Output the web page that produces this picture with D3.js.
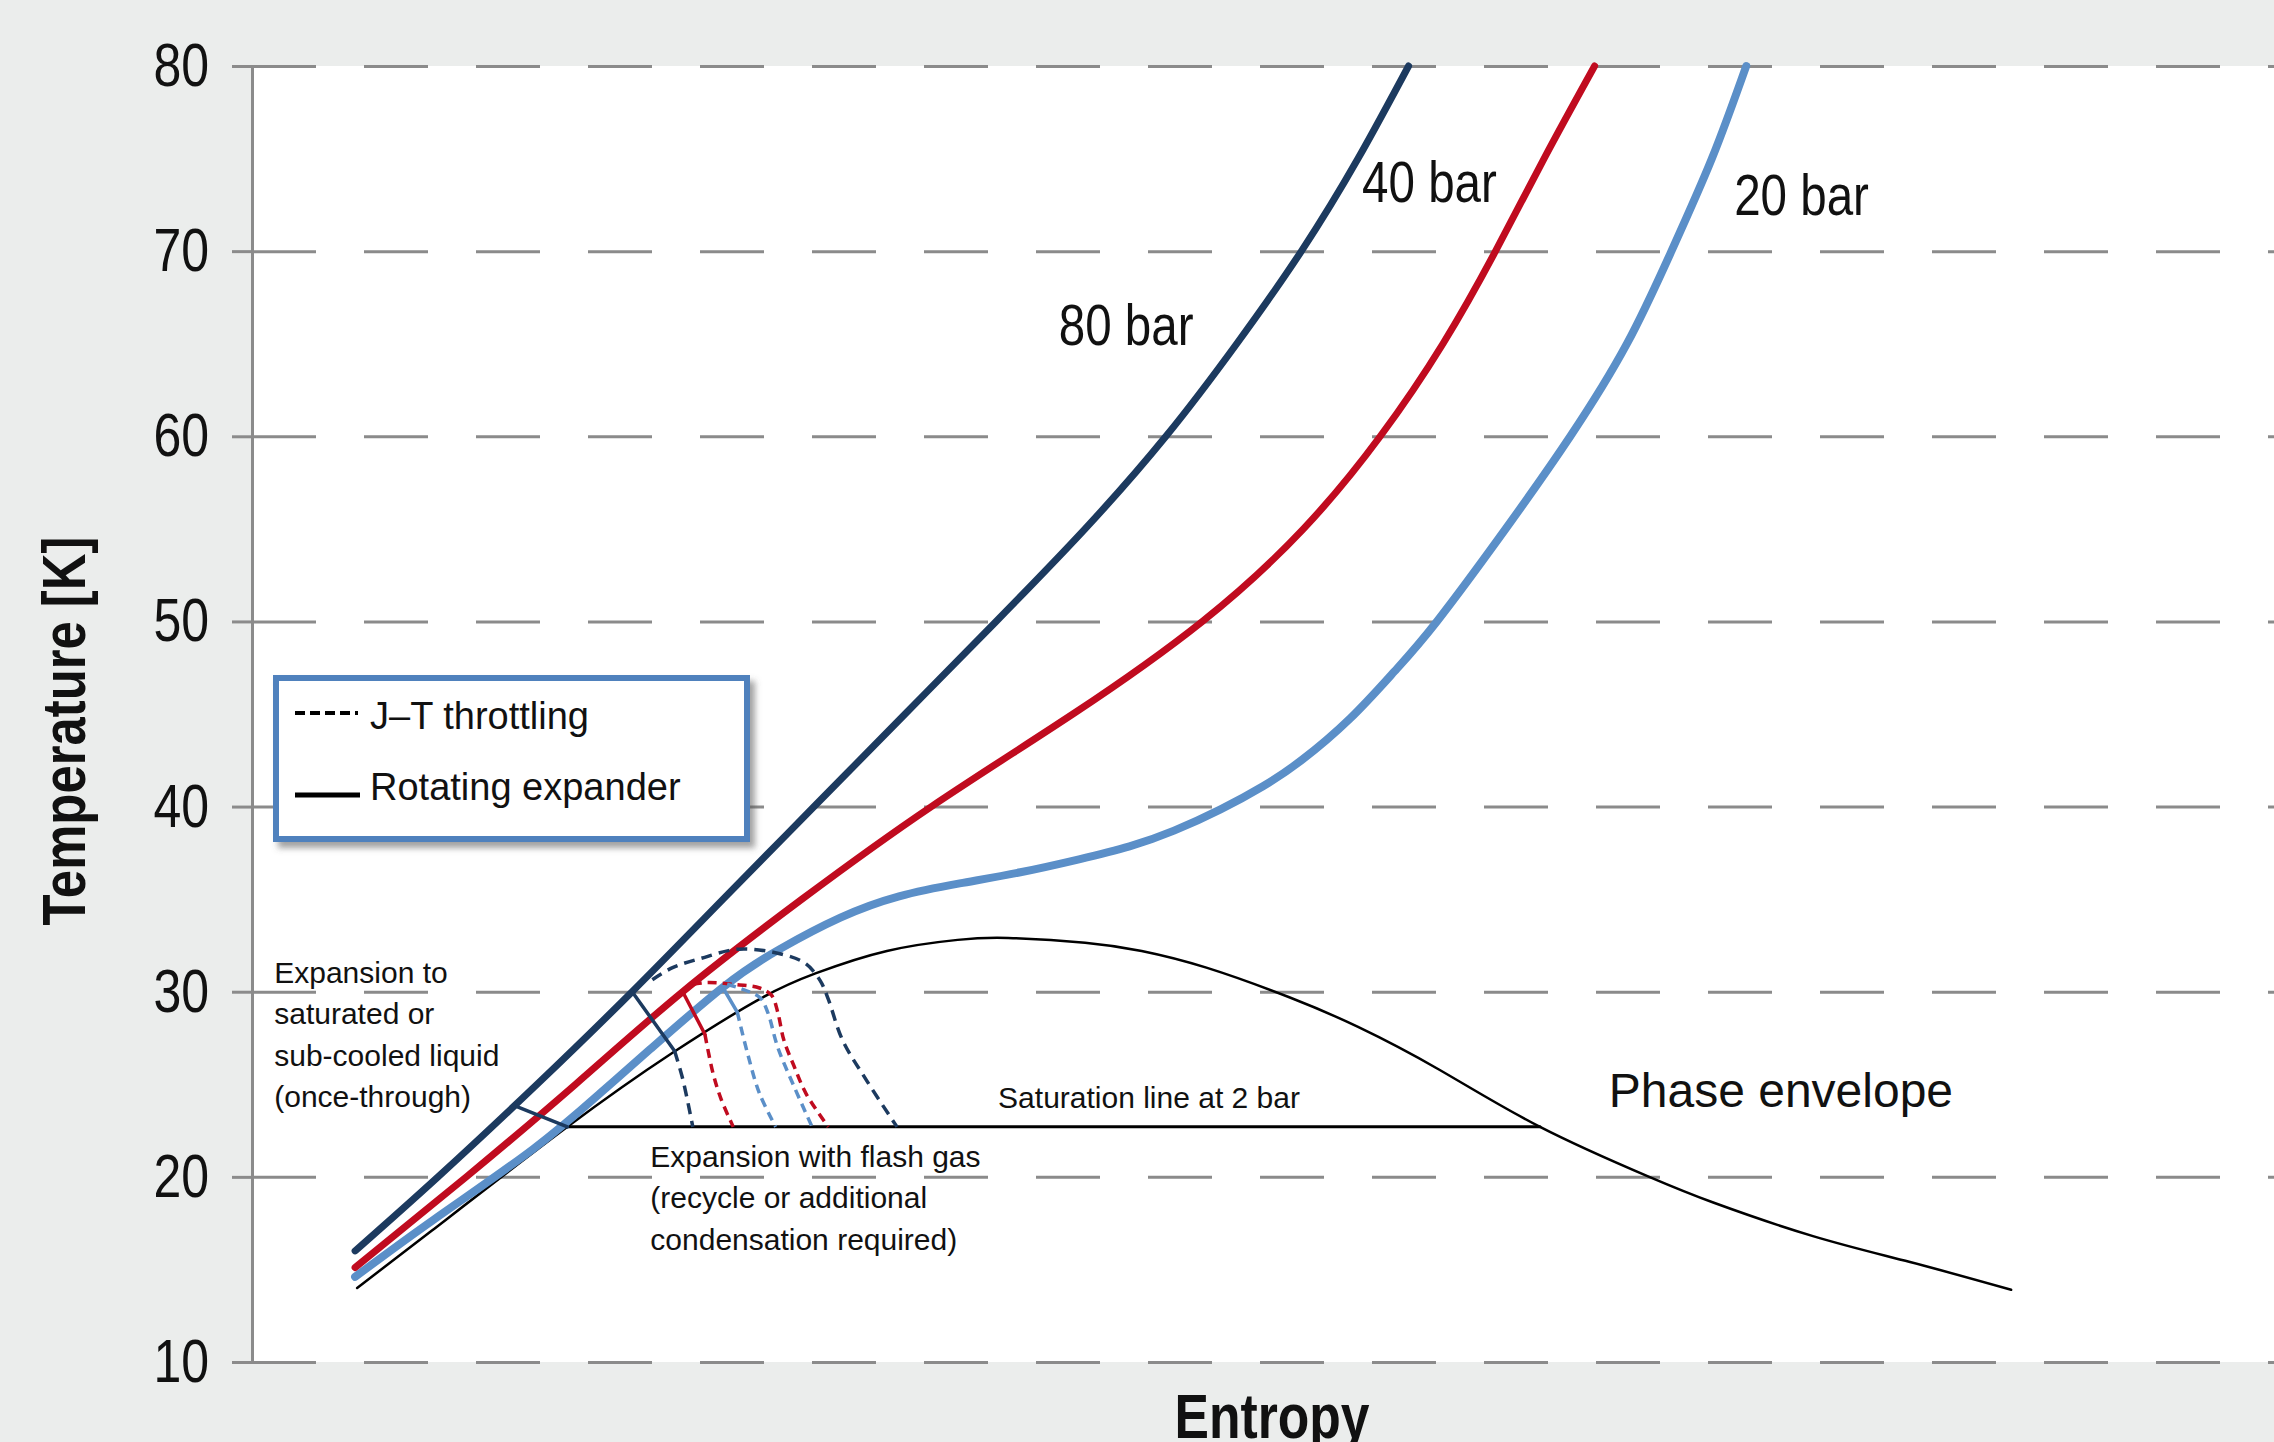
<!DOCTYPE html>
<html lang="en">
<head>
<meta charset="UTF-8">
<title>Hydrogen expansion T-s diagram</title>
<script src="https://d3js.org/d3.v7.min.js"></script>
<style>
  body { margin: 0; background: #ebedec; }
  svg { display: block; }
  text { font-family: 'Liberation Sans', Arial, sans-serif; fill: #111; }
</style>
</head>
<body>
<div id="chart"></div>
<script>
// Temperature ticks (K)
const tempTicks = [10, 20, 30, 40, 50, 60, 70, 80];

// Isobars: entropy (arbitrary units) vs temperature (K)
const s80 = [0.51, 0.92, 1.41, 1.88, 2.33, 2.78, 3.23, 3.68, 4.12, 4.52, 4.87, 5.19, 5.47, 5.72];
const t80 = [16.0, 20.0, 25.0, 30.0, 35.0, 40.0, 45.0, 50.0, 55.0, 60.0, 65.0, 70.0, 75.0, 80.0];

const s40 = [0.51, 1.06, 1.60, 2.13, 2.72, 3.36, 4.06, 4.70, 5.20, 5.58, 5.89, 6.15, 6.39, 6.64];
const t40 = [15.1, 20.0, 25.0, 30.0, 35.0, 40.0, 45.0, 50.0, 55.0, 60.0, 65.0, 70.0, 75.0, 80.0];

const s20 = [0.51, 0.90, 1.39, 1.72, 1.97, 2.33, 2.61, 2.91, 3.20, 3.50, 3.80, 4.09, 4.34, 4.56, 4.79,
             5.00, 5.19, 5.43, 5.65, 5.86, 6.20, 6.52, 6.80, 7.02, 7.22, 7.39];
const t20 = [14.6, 17.7, 21.5, 24.5, 26.9, 30.25, 32.3, 34.0, 35.15, 35.85, 36.45, 37.15, 37.85, 38.7, 39.85,
             41.1, 42.5, 44.75, 47.3, 50.0, 55.0, 60.0, 65.0, 70.0, 75.0, 80.0];

// Phase envelope
const sEnv = [0.52, 0.89, 1.56, 2.08, 2.51, 2.79, 3.14, 3.49, 3.74, 4.12, 4.40, 4.72, 5.13, 5.47, 5.87, 6.37, 6.91, 7.23, 7.72, 8.20, 8.70];
const tEnv = [14.0, 17.1, 22.7, 26.7, 29.6, 31.0, 32.2, 32.8, 32.9, 32.65, 32.2, 31.3, 29.7, 28.1, 25.8, 22.7, 20.0, 18.6, 16.8, 15.4, 13.9];

// Saturation line at 2 bar
const sSat = [1.56, 6.37];
const tSat = [22.7, 22.7];

// Rotating expander (solid) paths
const sExp80a = [1.31, 1.56], tExp80a = [23.8, 22.7];
const sExp80b = [1.88, 2.09], tExp80b = [30.0, 26.8];
const sExp40 = [2.13, 2.24], tExp40 = [30.0, 27.7];
const sExp20 = [2.33, 2.40], tExp20 = [30.2, 28.9];

// J-T throttling (dashed) paths
const sJT80a = [2.09, 2.13, 2.18], tJT80a = [26.8, 25.3, 22.7];
const sJT80b = [1.98, 2.08, 2.22, 2.41, 2.63, 2.74, 2.81, 2.85, 2.92, 3.04, 3.19];
const tJT80b = [30.65, 31.3, 31.8, 32.3, 32.0, 31.5, 30.6, 29.6, 27.4, 25.2, 22.7];
const sJT40a = [2.24, 2.28, 2.32, 2.38], tJT40a = [27.7, 25.6, 24.2, 22.7];
const sJT40b = [2.18, 2.25, 2.38, 2.51, 2.57, 2.60, 2.63, 2.68, 2.74, 2.85];
const tJT40b = [30.4, 30.5, 30.4, 30.2, 29.8, 28.9, 27.4, 26.0, 24.5, 22.7];
const sJT20a = [2.40, 2.45, 2.51, 2.59], tJT20a = [28.9, 26.7, 24.5, 22.7];
const sJT20b = [2.35, 2.51, 2.55, 2.60, 2.68, 2.77];
const tJT20b = [30.4, 29.7, 28.9, 27.0, 24.9, 22.7];

const navy = "#1c3a5f", red = "#c00b1f", blue = "#5b8fc8";
const narrow = 0.82; // horizontal squeeze for the condensed labels

const width = 2274, height = 1442;
const x = d3.scaleLinear().domain([0, 10]).range([252, 2274]);
const y = d3.scaleLinear().domain([10, 80]).range([1362, 66]);

const svg = d3.select("#chart").append("svg")
  .attr("width", width).attr("height", height);

const defs = svg.append("defs");
defs.append("filter").attr("id", "shadow")
  .attr("x", "-10%").attr("y", "-10%").attr("width", "130%").attr("height", "140%")
  .append("feDropShadow")
  .attr("dx", 5).attr("dy", 6).attr("stdDeviation", 3)
  .attr("flood-color", "#555").attr("flood-opacity", 0.55);

svg.append("rect").attr("width", width).attr("height", height).attr("fill", "#ebedec");
svg.append("rect")
  .attr("x", x(0)).attr("y", y(80))
  .attr("width", width - x(0)).attr("height", y(10) - y(80))
  .attr("fill", "#fff");

// dashed grid
svg.append("g")
  .attr("transform", `translate(${x(0)},0)`)
  .call(d3.axisLeft(y).tickValues(tempTicks).tickSize(-(width - x(0))).tickFormat(""))
  .call(g => g.select(".domain").remove())
  .call(g => g.selectAll(".tick line")
    .attr("stroke", "#8b8b8b").attr("stroke-width", 3).attr("stroke-dasharray", "64,48"));

// y axis
svg.append("g")
  .attr("transform", `translate(${x(0)},0)`)
  .call(d3.axisLeft(y).tickValues(tempTicks).tickSize(20).tickSizeOuter(0).tickPadding(23))
  .call(g => g.select(".domain").attr("stroke", "#8b8b8b").attr("stroke-width", 3))
  .call(g => g.selectAll(".tick line").attr("stroke", "#8b8b8b").attr("stroke-width", 3))
  .call(g => g.selectAll(".tick text")
    .attr("font-family", null).attr("font-size", 61).attr("fill", "#111")
    .attr("x", -43 / narrow).attr("transform", `scale(${narrow},1)`));

// condensed text helper
function condensed(px, py, txt, size, opts = {}) {
  return svg.append("text")
    .attr("transform", `translate(${px},${py}) rotate(${opts.rotate || 0}) scale(${narrow},1)`)
    .attr("text-anchor", opts.anchor || "start")
    .attr("font-size", size)
    .attr("font-weight", opts.bold ? "bold" : null)
    .text(txt);
}

condensed(85, 731, "Temperature [K]", 62, { rotate: -90, anchor: "middle", bold: true });
condensed(1272, 1438, "Entropy", 63, { anchor: "middle", bold: true });

const zip = (s, t) => s.map((v, i) => [v, t[i]]);
const lineN = d3.line().x(d => x(d[0])).y(d => y(d[1])).curve(d3.curveNatural);
const lineC = d3.line().x(d => x(d[0])).y(d => y(d[1])).curve(d3.curveCatmullRom.alpha(0.5));

function draw(gen, pts, color, w, dash) {
  svg.append("path")
    .datum(pts)
    .attr("fill", "none")
    .attr("stroke", color)
    .attr("stroke-width", w)
    .attr("stroke-linecap", dash ? "butt" : "round")
    .attr("stroke-linejoin", "round")
    .attr("stroke-dasharray", dash || null)
    .attr("d", gen);
}

// phase envelope + saturation line
draw(lineN, zip(sEnv, tEnv), "#000", 2.5);
draw(lineN, zip(sSat, tSat), "#000", 3);

// isobars
draw(lineN, zip(s20, t20), blue, 8);
draw(lineN, zip(s40, t40), red, 7);
draw(lineN, zip(s80, t80), navy, 7);

// throttling (dashed)
draw(lineC, zip(sJT80b, tJT80b), navy, 3.5, "11,7");
draw(lineC, zip(sJT80a, tJT80a), navy, 3.5, "11,7");
draw(lineC, zip(sJT40b, tJT40b), red, 3.5, "9,6");
draw(lineC, zip(sJT40a, tJT40a), red, 3.5, "9,6");
draw(lineC, zip(sJT20b, tJT20b), blue, 3.5, "9,6");
draw(lineC, zip(sJT20a, tJT20a), blue, 3.5, "9,6");

// rotating expander (solid)
draw(lineC, zip(sExp80a, tExp80a), navy, 3.5);
draw(lineC, zip(sExp80b, tExp80b), navy, 3.5);
draw(lineC, zip(sExp40, tExp40), red, 3.5);
draw(lineC, zip(sExp20, tExp20), blue, 3.5);

// isobar labels
condensed(x(3.99), y(64.94), "80 bar", 58);
condensed(x(5.49), y(72.66), "40 bar", 58);
condensed(x(7.33), y(71.95), "20 bar", 58);

function label(sv, tv, txt, size) {
  svg.append("text")
    .attr("x", x(sv)).attr("y", y(tv))
    .attr("font-size", size).text(txt);
}
label(6.71, 23.79, "Phase envelope", 48);
label(3.69, 23.74, "Saturation line at 2 bar", 30);

function block(sv, tv, lines) {
  const t = svg.append("text")
    .attr("x", x(sv)).attr("y", y(tv))
    .attr("font-size", 30);
  lines.forEach((l, i) => t.append("tspan").attr("x", x(sv)).attr("dy", i ? 41.5 : 0).text(l));
}
block(0.11, 30.49, ["Expansion to", "saturated or", "sub-cooled liquid", "(once-through)"]);
block(1.97, 20.55, ["Expansion with flash gas", "(recycle or additional", "condensation required)"]);

// legend
const lg = svg.append("g");
lg.append("rect")
  .attr("x", 276).attr("y", 678).attr("width", 471).attr("height", 161)
  .attr("fill", "#fff").attr("stroke", "#4f81bd").attr("stroke-width", 6)
  .attr("filter", "url(#shadow)");
lg.append("line").attr("x1", 295).attr("x2", 358).attr("y1", 713).attr("y2", 713)
  .attr("stroke", "#000").attr("stroke-width", 4).attr("stroke-dasharray", "10,5");
lg.append("line").attr("x1", 295).attr("x2", 360).attr("y1", 795).attr("y2", 795)
  .attr("stroke", "#000").attr("stroke-width", 5);
lg.append("text").attr("x", 370).attr("y", 729)
  .attr("font-size", 38).text("J–T throttling");
lg.append("text").attr("x", 370).attr("y", 800)
  .attr("font-size", 38).text("Rotating expander");
</script>
</body>
</html>
